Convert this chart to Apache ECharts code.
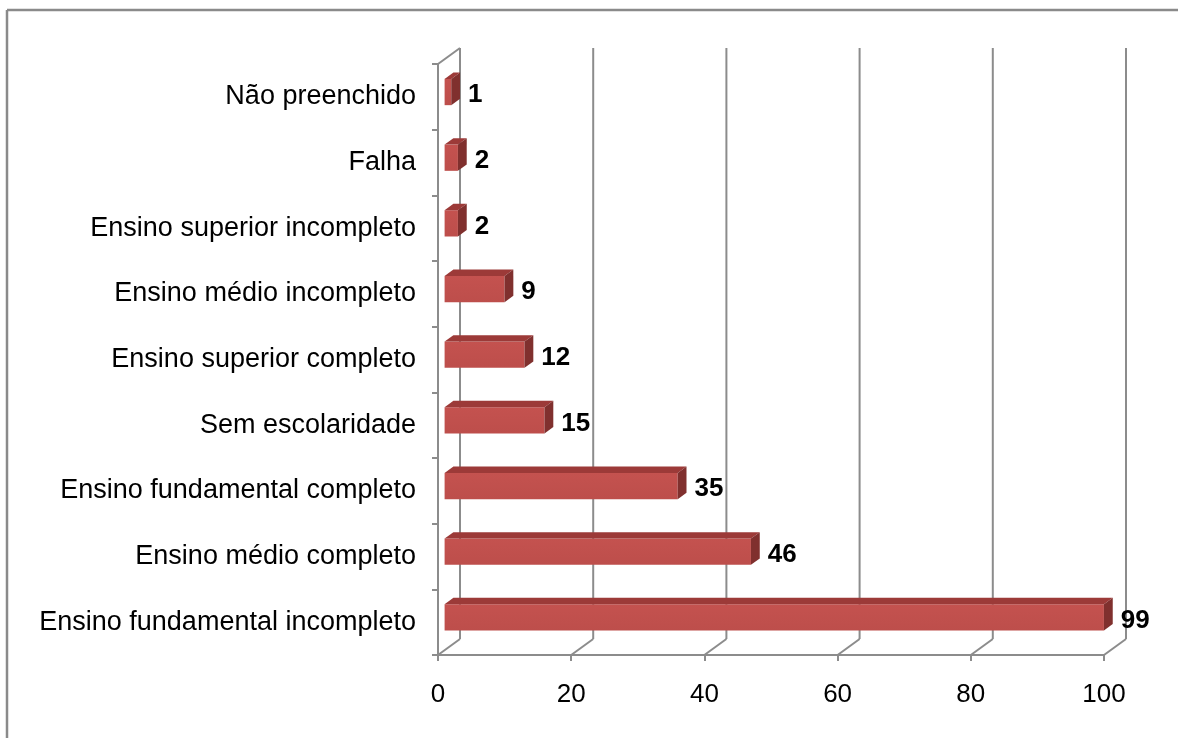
<!DOCTYPE html>
<html>
<head>
<meta charset="utf-8">
<script src="https://cdn.jsdelivr.net/npm/echarts@6/dist/echarts.min.js"></script>
<style>
  html, body { margin: 0; padding: 0; background: #fff; }
  #chart { width: 1178px; height: 738px; }
</style>
</head>
<body>
<div id="chart"></div>
<script>
// Escolaridade: categories listed top to bottom
const categories = [
  'Não preenchido',
  'Falha',
  'Ensino superior incompleto',
  'Ensino médio incompleto',
  'Ensino superior completo',
  'Sem escolaridade',
  'Ensino fundamental completo',
  'Ensino médio completo',
  'Ensino fundamental incompleto'
];
const values = [1, 2, 2, 9, 12, 15, 35, 46, 99];
const xTicks = [0, 20, 40, 60, 80, 100];

const FONT = "'Liberation Sans', Arial, sans-serif";
const GRID_COLOR = '#8c8c8c';
// depth vector of the pseudo-3D box (back wall offset from the front plane)
const DEPTH = [22, -16];
const BAR_FRONT = 0.3, BAR_BACK = 0.7;

const chart = echarts.init(document.getElementById('chart'));

function renderWalls(params, api) {
  const v = api.value(0);
  const cs = params.coordSys;
  const x = api.coord([v, 0])[0];
  const top = cs.y, bottom = cs.y + cs.height;
  const style = { stroke: GRID_COLOR, lineWidth: 2, fill: null };
  const children = [
    { type: 'line', shape: { x1: x + DEPTH[0], y1: top + DEPTH[1], x2: x + DEPTH[0], y2: bottom + DEPTH[1] }, style },
    { type: 'line', shape: { x1: x, y1: bottom, x2: x + DEPTH[0], y2: bottom + DEPTH[1] }, style }
  ];
  if (v === 0) {
    children.push({ type: 'line', shape: { x1: x, y1: top, x2: x + DEPTH[0], y2: top + DEPTH[1] }, style });
  }
  return { type: 'group', children };
}

function renderBar(params, api) {
  const idx = api.value(0);
  const val = api.value(1);
  const p0 = api.coord([0, idx]);
  const p1 = api.coord([val, idx]);
  const band = api.size([0, 1])[1];
  const h = band * 0.4;
  const fx = DEPTH[0] * BAR_FRONT, fy = DEPTH[1] * BAR_FRONT;
  const dx = DEPTH[0] * (BAR_BACK - BAR_FRONT), dy = DEPTH[1] * (BAR_BACK - BAR_FRONT);
  const x0 = p0[0] + fx, x1 = p1[0] + fx;
  const yc = p0[1] + fy;
  const top = yc - h / 2, bot = yc + h / 2;
  return {
    type: 'group',
    children: [
      { type: 'rect', shape: { x: x0, y: top, width: x1 - x0, height: h },
        style: { fill: new echarts.graphic.LinearGradient(0, 0, 0, 1, [
          { offset: 0, color: '#c4524f' }, { offset: 1, color: '#bd4e4b' }]) } },
      { type: 'polygon', shape: { points: [[x0, top], [x1, top], [x1 + dx, top + dy], [x0 + dx, top + dy]] },
        style: { fill: '#9c3a38' } },
      { type: 'polygon', shape: { points: [[x1, top], [x1 + dx, top + dy], [x1 + dx, bot + dy], [x1, bot]] },
        style: { fill: '#80302e' } },
      { type: 'text', x: x1 + dx + 8, y: yc + 3,
        style: { text: String(val), fill: '#000', font: 'bold 26px ' + FONT, align: 'left', verticalAlign: 'middle' } }
    ]
  };
}

chart.setOption({
  animation: false,
  backgroundColor: '#fff',
  grid: { left: 438, top: 64, width: 666, height: 591, containLabel: false },
  xAxis: {
    type: 'value', min: 0, max: 100, interval: 20,
    axisLine: { show: true, lineStyle: { color: GRID_COLOR, width: 2 } },
    axisTick: { show: true, length: 6, lineStyle: { color: GRID_COLOR, width: 2 } },
    splitLine: { show: false },
    axisLabel: { color: '#000', fontSize: 26, fontFamily: FONT, margin: 27 }
  },
  yAxis: {
    type: 'category', data: categories, inverse: true,
    axisLine: { show: true, lineStyle: { color: GRID_COLOR, width: 2 } },
    axisTick: { show: true, length: 6, lineStyle: { color: GRID_COLOR, width: 2 } },
    splitLine: { show: false },
    axisLabel: { color: '#000', fontSize: 27, fontFamily: FONT, margin: 22, padding: [5, 0, 0, 0] }
  },
  series: [
    {
      type: 'custom', name: 'walls', silent: true, z: 1,
      data: xTicks.map(v => [v, 0]),
      encode: { x: 0, y: 1 },
      renderItem: renderWalls
    },
    {
      type: 'custom', name: 'escolaridade', z: 3,
      data: values.map((v, i) => [i, v]),
      encode: { x: 1, y: 0 },
      renderItem: renderBar
    }
  ],
  graphic: [
    { type: 'line', shape: { x1: 7, y1: 10, x2: 1178, y2: 10 }, style: { stroke: '#8a8a8a', lineWidth: 2.5 } },
    { type: 'line', shape: { x1: 7, y1: 10, x2: 7, y2: 738 }, style: { stroke: '#8a8a8a', lineWidth: 2.5 } }
  ]
});
</script>
</body>
</html>
